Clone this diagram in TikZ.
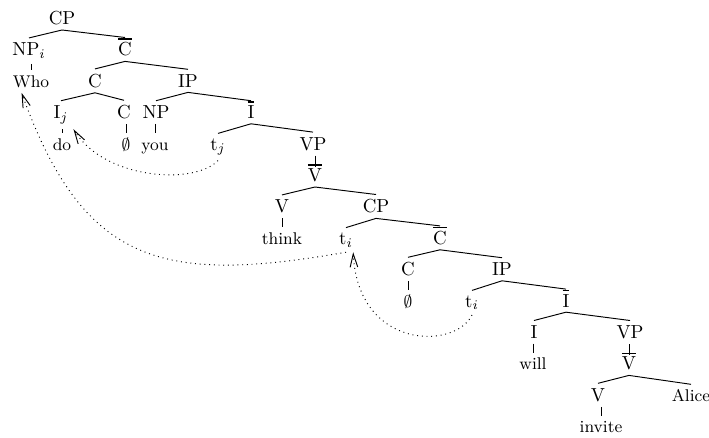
\documentclass[tikz,border=0pt]{standalone}
\usetikzlibrary{arrows.meta}
\newsavebox{\barbox}
\newcommand{\barlabel}[1]{\sbox{\barbox}{#1}\rlap{\raisebox{\dimexpr\ht\barbox+1.5pt\relax}[0pt][0pt]{\rule{\wd\barbox}{0.8pt}}}\usebox{\barbox}}
\begin{document}
\begin{tikzpicture}[
  x=0.53pt, y=-0.53pt,
  every node/.style = {
    anchor=base,
    inner sep=2.5pt
  },
  leaf/.style={font=\small, text height=6.3pt},
  branch/.style={draw, line width=0.5pt},
  move/.style={draw, dotted, line width=0.5pt, -{Straight Barb[length=7pt,width=4pt]}}
]
    \useasboundingbox (0,0) rectangle (709,438);
    % upper clause
    \node (cp1) at (62,24.5) {CP};
    \node (npi) at (29,55.9) {NP$_i$};
    \node (cbar1) at (125,55.9) {\barlabel{C}};
    \node[leaf] (who) at (31,87.3) {Who};
    \node (c1) at (95,87.3) {C};
    \node (ip1) at (188,87.3) {IP};
    \node (ij) at (61,118.7) {I$_j$};
    \node (c2) at (124,118.7) {C};
    \node (np) at (156,118.7) {NP};
    \node (ibar1) at (251,118.7) {\barlabel{I}};
    \node[leaf] (do) at (62,150.1) {do};
    \node[leaf] (empty1) at (126,150.1) {$\emptyset$};
    \node[leaf] (you) at (155,150.1) {you};
    \node (tj) at (218,150.1) {t$_j$};
    \node (vp1) at (313,150.1) {VP};
    \node (vbar1) at (315,181.5) {\barlabel{V}};
    \node (v1) at (282,212.9) {V};
    \node (cp2) at (376,212.9) {CP};
    \node[leaf] (think) at (282,244.3) {think};
    % embedded clause
    \node (ti1) at (346,244.3) {t$_i$};
    \node (cbar2) at (440,244.3) {\barlabel{C}};
    \node (c3) at (408,275.7) {C};
    \node (ip2) at (502,275.7) {IP};
    \node[leaf] (empty2) at (408,307.1) {$\emptyset$};
    \node (ti2) at (472,307.1) {t$_i$};
    \node (ibar2) at (566,307.1) {\barlabel{I}};
    \node (i2) at (534,338.5) {I};
    \node (vp2) at (630,338.5) {VP};
    \node[leaf] (will) at (533,369.9) {will};
    \node (vbar2) at (629,369.9) {\barlabel{V}};
    \node (v2) at (598,401.3) {V};
    \node[leaf] (alice) at (691,401.3) {Alice};
    \node[leaf] (invite) at (601,432.7) {invite};
    % branching
    \foreach \p/\c in {cp1/npi, cp1/cbar1, cbar1/c1, cbar1/ip1,
      c1/ij, c1/c2, ip1/np, ip1/ibar1, ibar1/tj, ibar1/vp1,
      vbar1/v1, vbar1/cp2, cp2/ti1, cp2/cbar2, cbar2/c3, cbar2/ip2,
      ip2/ti2, ip2/ibar2, ibar2/i2, ibar2/vp2, vbar2/v2, vbar2/alice}{
        \path[branch] (\p.south) edge (\c.north);
    }
    % unary
    \foreach \p/\c/\s in {npi/who/0pt, ij/do/0pt, c2/empty1/0pt, np/you/0pt,
      vp1/vbar1/-1.8pt, v1/think/0pt, c3/empty2/0pt, i2/will/0pt,
      vp2/vbar2/-1.8pt, v2/invite/0pt}{
        \path[branch, shorten >=\s] (\c.north |- \p.south) edge (\c.north);
    }
    % movement
    \path[move] (tj.south) .. controls (195,185) and (105,180) .. (ij.south east);
    \path[move] (ti1.south) .. controls (164,284) and (84,266) .. ([xshift=-5pt]who.south);
    \path[move] (ti2.south) .. controls (455,350) and (358,350) .. ([xshift=-2.5pt]ti1.south east);
\end{tikzpicture}
\end{document}
